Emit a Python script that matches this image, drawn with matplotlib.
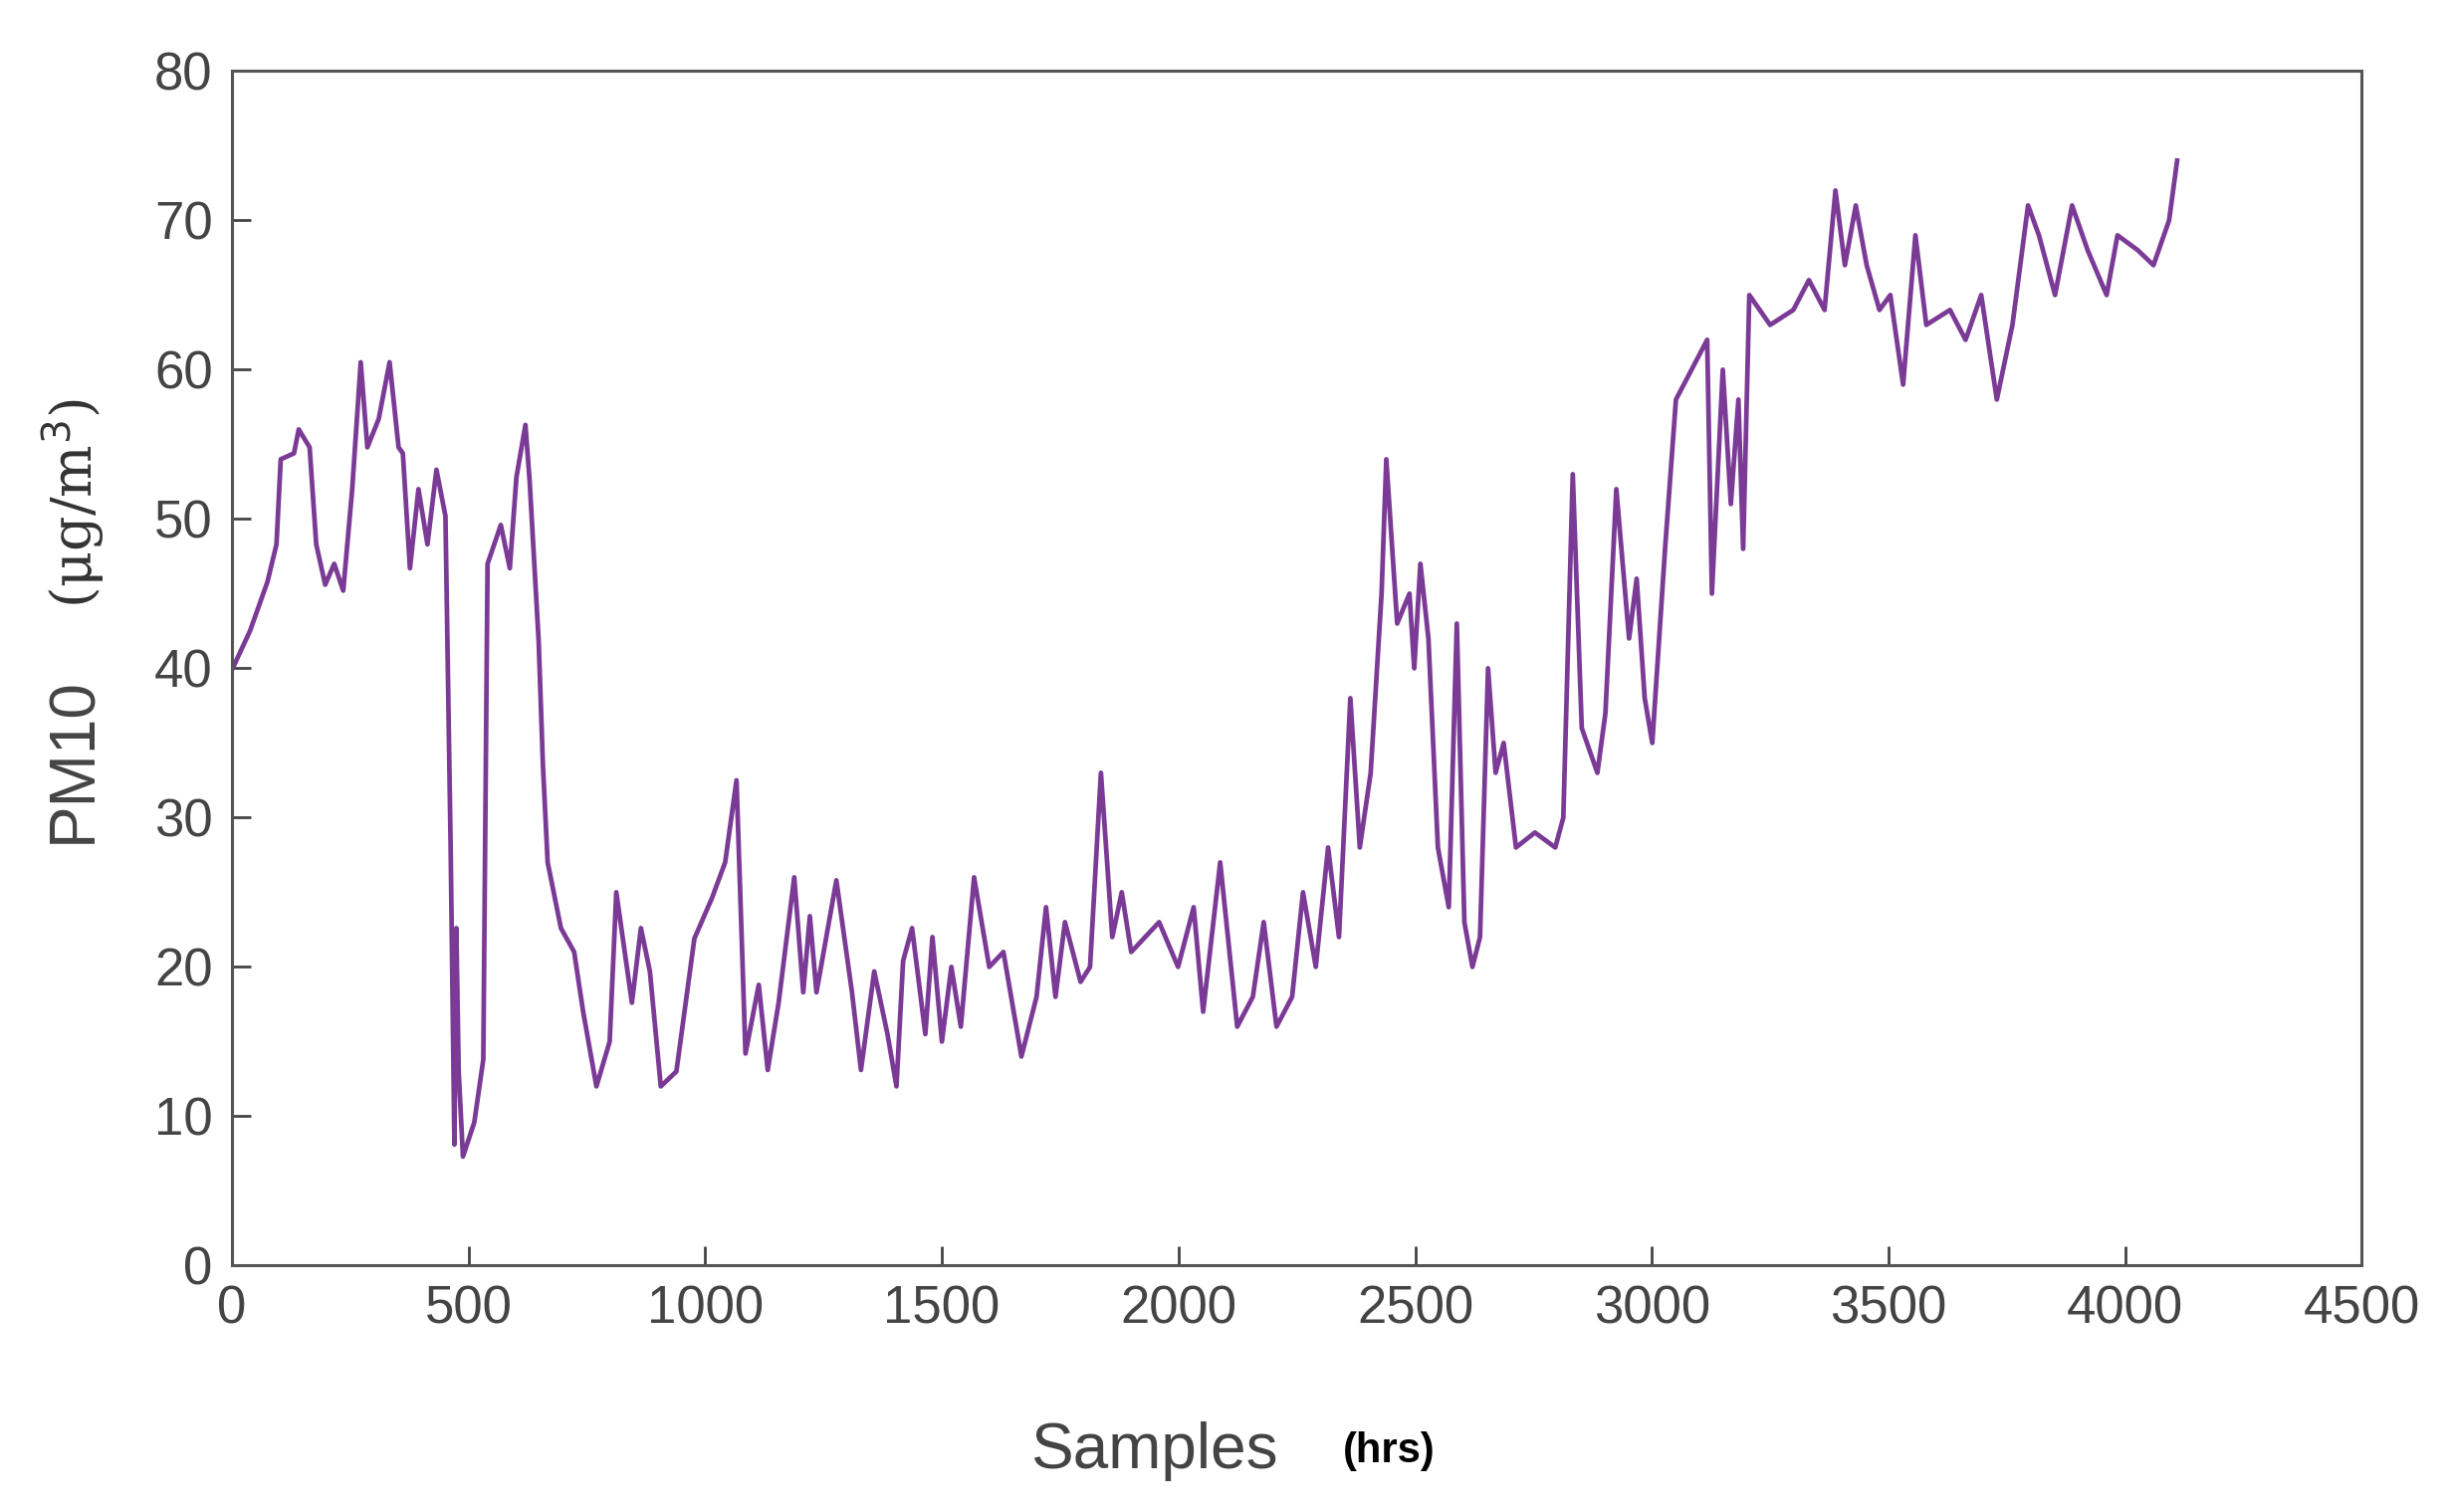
import matplotlib
matplotlib.use("Agg")
import matplotlib.pyplot as plt
plt.rcParams['font.family'] = ['Liberation Sans', 'DejaVu Sans']

samples = [0,38,75,94,103,131,141,164,178,197,216,235,254,272,286,310,333,352,361,376,394,413,432,451,
           462,470,474,479,488,512,531,540,568,587,601,620,629,648,657,667,695,723,742,770,798,812,845,864,
           883,906,939,977,1014,1042,1066,1085,1113,1132,1155,1188,1207,1221,1235,1277,1310,1329,1357,1385,
           1404,1418,1437,1465,1480,1500,1520,1540,1568,1600,1630,1668,1700,1720,1740,1760,1793,1813,1836,
           1860,1880,1900,1959,1999,2032,2052,2088,2124,2157,2180,2207,2240,2263,2290,2316,2339,2363,2383,
           2406,2429,2439,2462,2488,2498,2511,2528,2548,2571,2588,2604,2621,2637,2654,2670,2687,2713,2753,
           2796,2813,2833,2852,2885,2902,2925,2952,2968,2985,3001,3028,3051,3084,3117,3127,3150,3167,3183,
           3193,3206,3250,3299,3332,3365,3388,3408,3431,3454,3481,3504,3531,3557,3580,3630,3663,3696,3729,
           3762,3795,3818,3852,3888,3921,3961,3984,4027,4060,4093,4110]
pm10 = [39.9,42.5,45.8,48.3,54,54.4,56,54.8,48.3,45.6,47,45.2,52,60.5,54.8,56.7,60.5,54.8,54.4,46.7,52,48.3,53.3,50.2,
        28,8.1,22.6,13,7.3,9.6,13.8,47,49.6,46.7,52.8,56.3,52.5,41.8,33.5,27,22.6,21,17,12,15,25,17.6,22.6,
        19.7,12,13,21.9,24.6,27,32.5,14.2,18.8,13.1,17.6,26,18.3,23.4,18.3,25.8,18.3,13.1,19.7,15.5,
        12,20.4,22.6,15.5,22,15,20,16,26,20,21,14,18,24,18,23,19,20,33,
        22,25,21,23,20,24,17,27,16,18,23,16,18,25,20,28,22,38,28,
        33,45,54,43,45,40,47,42,28,24,43,23,20,22,40,33,35,28,29,
        28,30,53,36,33,37,52,42,46,38,35,48,58,60,62,45,60,51,58,
        48,65,63,64,66,64,72,67,71,67,64,65,59,69,63,64,62,65,58,
        63,71,69,65,71,68,65,69,68,67,70,74]
xticks = [0,500,1000,1500,2000,2500,3000,3500,4000,4500]
yticks = [0,10,20,30,40,50,60,70,80]

fig = plt.figure(figsize=(24.66,15.19), dpi=100)
ax = fig.add_axes([0.0945,0.163,0.8675,0.79])
ax.plot(samples, pm10, color='#7a3a96', lw=3.4)
ax.set_xlim(0,4500); ax.set_ylim(0,80)
ax.set_xticks(xticks); ax.set_yticks(yticks)
ax.tick_params(direction='in', length=14, width=2, colors='#444444', labelsize=38, pad=14)
for s in ax.spines.values():
    s.set_color('#555555'); s.set_linewidth(2.2)
fig.text(0.47, 0.04, 'Samples', fontsize=46, color='#444444', ha='center', va='center')
fig.text(0.547, 0.04, '(hrs)', fontsize=30, color='black', fontweight='bold', ha='left', va='center')
fig.text(0.03, 0.497, 'PM10', fontsize=46, color='#444444', rotation=90, ha='center', va='center')
fig.text(0.03, 0.667, '(μg/m$^3$)', fontsize=40, family='DejaVu Serif', color='#333333', rotation=90, ha='center', va='center')
fig.savefig('out.png', dpi=100, facecolor='white')
